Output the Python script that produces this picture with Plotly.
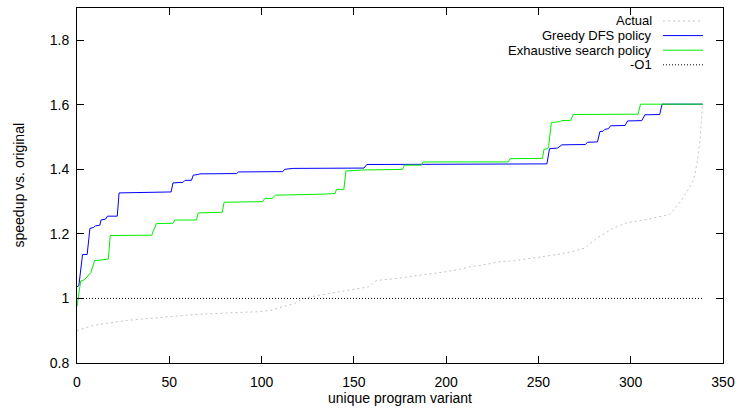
import plotly.graph_objects as go

# ---- data ----
actual_x = [0, 9, 27, 45, 63, 81, 98, 105, 110, 118, 121, 125, 133, 142, 150, 158, 160, 162,
            173, 184, 191, 200, 208, 213, 222, 228, 237, 250, 260, 268, 275, 282, 291, 298,
            309, 321, 327, 332, 334, 336, 337.5, 339]
actual_y = [0.900, 0.917, 0.932, 0.942, 0.950, 0.955, 0.959, 0.963, 0.972, 0.985, 0.995, 1.003,
            1.012, 1.020, 1.028, 1.036, 1.044, 1.055, 1.062, 1.070, 1.075, 1.083, 1.091, 1.098,
            1.106, 1.113, 1.117, 1.127, 1.136, 1.145, 1.156, 1.188, 1.219, 1.235, 1.245, 1.260,
            1.300, 1.345, 1.365, 1.420, 1.490, 1.602]

greedy_x = [0, 1, 3, 5.5, 6.5, 7, 9, 10, 12.4, 13, 15.5, 16.5, 21.8, 22.8, 51, 52, 57.5, 58.5,
            62, 63, 65.5, 66.5, 86.5, 87.5, 111.5, 112.5, 117, 155.5, 157, 227, 228, 254.6, 256,
            260.4, 262.7, 275.5, 276.5, 282, 283.3, 285, 286, 288, 289, 297, 298.3, 306, 307.7,
            315.7, 317, 339]
greedy_y = [1.036, 1.040, 1.136, 1.136, 1.190, 1.217, 1.220, 1.225, 1.227, 1.243, 1.246, 1.255,
            1.255, 1.327, 1.330, 1.358, 1.360, 1.366, 1.366, 1.382, 1.384, 1.386, 1.387, 1.392,
            1.393, 1.400, 1.403, 1.404, 1.415, 1.415, 1.417, 1.417, 1.464, 1.466, 1.476, 1.477,
            1.484, 1.485, 1.517, 1.518, 1.524, 1.526, 1.535, 1.536, 1.550, 1.551, 1.569, 1.570,
            1.602, 1.602]

exh_x = [0, 2, 4, 7.5, 9.5, 14.5, 17, 18, 40.5, 43, 52, 53, 64.7, 65.7, 78.7, 79.7, 100.6,
         101.8, 105.7, 107.6, 131, 132, 139.8, 140.6, 144.6, 145.7, 155, 176.4, 177.3, 186.7,
         187.6, 233.7, 234.6, 252.2, 253, 255, 255.5, 257, 261.6, 262.5, 267.5, 268.8, 304,
         305.3, 339]
exh_y = [0.975, 1.054, 1.058, 1.080, 1.117, 1.120, 1.122, 1.195, 1.196, 1.232, 1.233, 1.243,
         1.243, 1.265, 1.267, 1.298, 1.300, 1.310, 1.310, 1.320, 1.321, 1.323, 1.325, 1.338,
         1.338, 1.395, 1.398, 1.400, 1.413, 1.413, 1.423, 1.423, 1.433, 1.434, 1.462, 1.464,
         1.470, 1.545, 1.548, 1.551, 1.552, 1.570, 1.571, 1.602, 1.602]

o1_x = [0, 339]
o1_y = [1.0, 1.0]

legend_names = ["Actual", "Greedy DFS policy", "Exhaustive search policy", "-O1"]
x_ticks = [0, 50, 100, 150, 200, 250, 300, 350]
y_ticks = [0.8, 1.0, 1.2, 1.4, 1.6, 1.8]
y_tick_text = ["0.8", "1", "1.2", "1.4", "1.6", "1.8"]

# ---- styles ----
FONT = "Liberation Sans, Arial, Helvetica, sans-serif"
styles = [
    dict(color="#c4c4c4", width=1, dash="2px,3px"),
    dict(color="#0000ff", width=1, dash="solid"),
    dict(color="#00ee00", width=1, dash="solid"),
    dict(color="#000000", width=1, dash="1px,2px"),
]

fig = go.Figure()
for (xs, ys), name, st in zip([(actual_x, actual_y), (greedy_x, greedy_y),
                               (exh_x, exh_y), (o1_x, o1_y)], legend_names, styles):
    fig.add_trace(go.Scatter(x=xs, y=ys, mode="lines", name=name, line=st,
                             showlegend=False, hoverinfo="skip"))

# plot area in pixels: x 77..723, y 8..363
L, R, T, B = 77, 14, 8, 47
W, H = 737, 410
pw, ph = W - L - R, H - T - B

def px_to_paper_x(px):
    return (px - L) / pw

def px_to_paper_y(py):
    return 1 - (py - T) / ph

# gnuplot-style key: text right-aligned, sample to the right
rows = [21.0, 35.6, 50.2, 64.8]
for name, st, ry in zip(legend_names, styles, rows):
    fig.add_annotation(x=px_to_paper_x(654), y=px_to_paper_y(ry), xref="paper", yref="paper",
                       text=name, showarrow=False, xanchor="right", yanchor="middle",
                       font=dict(family=FONT, size=13, color="black"))
    fig.add_shape(type="line", xref="paper", yref="paper",
                  x0=px_to_paper_x(663), x1=px_to_paper_x(703),
                  y0=px_to_paper_y(ry), y1=px_to_paper_y(ry), line=st)

# axis titles
fig.add_annotation(x=0.5, y=px_to_paper_y(398), xref="paper", yref="paper",
                   text="unique program variant", showarrow=False, yanchor="middle",
                   font=dict(family=FONT, size=14, color="black"))
fig.add_annotation(x=px_to_paper_x(18), y=0.5, xref="paper", yref="paper",
                   text="speedup vs. original", showarrow=False, textangle=-90,
                   xanchor="center", yanchor="middle",
                   font=dict(family=FONT, size=14, color="black"))

axis_common = dict(showgrid=False, zeroline=False, showline=True, linecolor="black",
                   linewidth=1, mirror="ticks", ticks="inside", ticklen=7,
                   tickcolor="black", tickwidth=1,
                   tickfont=dict(family=FONT, size=14, color="black"))

fig.update_layout(
    width=W, height=H,
    margin=dict(l=L, r=R, t=T, b=B, autoexpand=False),
    paper_bgcolor="white", plot_bgcolor="white",
    xaxis=dict(range=[0, 350], tickvals=x_ticks, ticktext=[str(v) for v in x_ticks],
               ticklabelstandoff=6, **axis_common),
    yaxis=dict(range=[0.8, 1.9], tickvals=y_ticks, ticktext=y_tick_text,
               ticklabelstandoff=4, **axis_common),
)

fig.write_html("out.html")
